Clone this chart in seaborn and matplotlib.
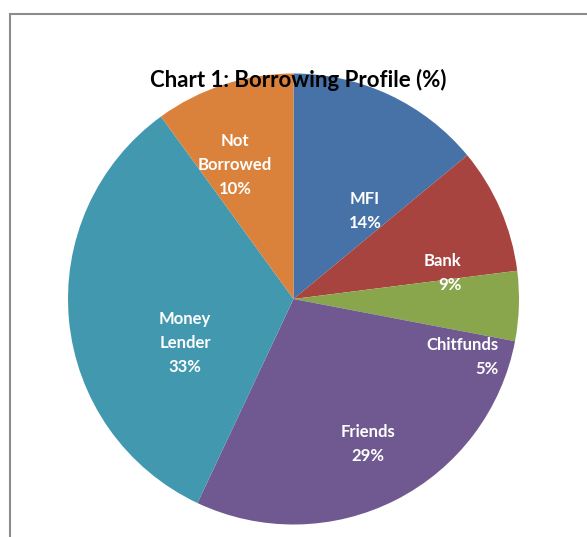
import matplotlib
matplotlib.use("Agg")
import matplotlib.pyplot as plt
from matplotlib.patches import Rectangle
import seaborn as sns

# Borrowing profile shares (%), clockwise from 12 o'clock
categories = ["MFI", "Bank", "Chitfunds", "Friends", "Money\nLender", "Not\nBorrowed"]
shares = [14, 9, 5, 29, 33, 10]
colors = ["#4672A8", "#A7443F", "#8AA64C", "#705891", "#4298AE", "#DA823C"]

# label anchor points in pie-radius units, and horizontal alignment
label_pos = [(0.317, 0.390), (0.745, 0.115), (0.910, -0.257),
             (0.330, -0.643), (-0.481, -0.195), (-0.259, 0.594)]
label_ha = ["center", "right", "right", "center", "center", "center"]

sns.set_theme(style="white")
plt.rcParams["font.family"] = ["Lato", "DejaVu Sans"]

W, H = 587, 537
fig = plt.figure(figsize=(W / 100, H / 100), dpi=100)
fig.patch.set_facecolor("white")

# outer chart frame
fig.add_artist(Rectangle((9.5 / W, -0.05), 1.0, (H - 14) / H + 0.05,
                         transform=fig.transFigure, fill=False,
                         edgecolor="#8C8C8C", linewidth=1.5))

cx, cy, r = 293.5, 299, 225.5
ax = fig.add_axes([(cx - r) / W, (H - cy - r) / H, 2 * r / W, 2 * r / H])
ax.pie(shares, colors=colors, startangle=90, counterclock=False,
       radius=1.0, wedgeprops=dict(linewidth=0))
ax.set_xlim(-1, 1)
ax.set_ylim(-1, 1)
ax.set_aspect("equal")
ax.axis("off")

for name, val, (x, y), ha in zip(categories, shares, label_pos, label_ha):
    ax.text(x, y, f"{name}\n{val}%", ha=ha, va="center", multialignment=ha,
            color="white", fontsize=12, fontweight="bold", linespacing=1.62)

fig.text(298 / W, 1 - 87 / H, "Chart 1: Borrowing Profile (%)", ha="center",
         va="baseline", fontsize=16, fontweight="bold", color="black", zorder=10)

fig.savefig("out.png", dpi=100, facecolor="white")
